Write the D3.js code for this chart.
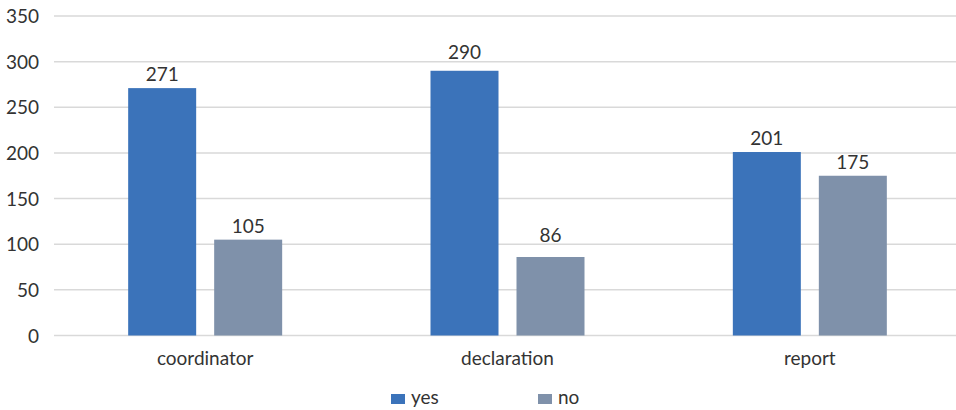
<!DOCTYPE html>
<html>
<head>
<meta charset="utf-8">
<script src="https://cdn.jsdelivr.net/npm/d3@7"></script>
<style>
  html, body { margin: 0; padding: 0; background: #fff; }
  svg { display: block; }
  text { font-family: Lato, "Open Sans", sans-serif; fill: #333; }
</style>
</head>
<body>
<svg id="chart" width="956" height="410"></svg>
<script>
// Chart data
const categories = ["coordinator", "declaration", "report"];
const seriesNames = ["yes", "no"];
const yesValues = [271, 290, 201];
const noValues = [105, 86, 175];
const yTicks = [0, 50, 100, 150, 200, 250, 300, 350];
const colors = { yes: "#3b73ba", no: "#7f91aa" };

const rows = categories.map((c, i) => ({ category: c, yes: yesValues[i], no: noValues[i] }));

const svg = d3.select("#chart");
const plotLeft = 54, plotRight = 961, plotTop = 16, plotBottom = 335.5;
const fontSize = 19;
const fontFamily = "Lato, 'Open Sans', sans-serif";

const x0 = d3.scaleBand().domain(categories).range([plotLeft, plotRight]).paddingInner(0).paddingOuter(0);
const x1 = d3.scaleBand().domain(seriesNames).range([0, 154]).paddingInner(18 / 86).paddingOuter(0);
const y = d3.scaleLinear().domain([0, 350]).range([plotBottom, plotTop]);

// Horizontal gridlines
svg.append("g")
  .selectAll("line")
  .data(yTicks)
  .join("line")
  .attr("x1", plotLeft).attr("x2", 956)
  .attr("y1", d => y(d)).attr("y2", d => y(d))
  .attr("stroke", "#d9d9d9").attr("stroke-width", 1.5);

// Y axis tick labels
const yAxis = d3.axisLeft(y).tickValues(yTicks).tickSize(0).tickPadding(0);
const gy = svg.append("g").attr("transform", `translate(39,0)`).call(yAxis);
gy.select(".domain").remove();
gy.selectAll("text").attr("font-size", fontSize).attr("font-family", fontFamily).attr("fill", "#333").attr("dy", "0.35em");

// Grouped bars
const groups = svg.append("g")
  .selectAll("g")
  .data(rows)
  .join("g")
  .attr("transform", d => `translate(${x0(d.category) + (x0.bandwidth() - 154) / 2},0)`);

groups.selectAll("rect")
  .data(d => seriesNames.map(k => ({ key: k, value: d[k] })))
  .join("rect")
  .attr("x", d => x1(d.key))
  .attr("width", x1.bandwidth())
  .attr("y", d => y(d.value))
  .attr("height", d => y(0) - y(d.value))
  .attr("fill", d => colors[d.key]);

// Value label baseline: a few px above the bar, lifted above a gridline it would cross
function labelBaseline(v) {
  let base = y(v) - 7;
  const hit = yTicks.map(t => y(t)).find(g => g > base - 13 && g < base + 2);
  if (hit !== undefined) base = hit - 2.5;
  return base;
}

groups.selectAll("text")
  .data(d => seriesNames.map(k => ({ key: k, value: d[k] })))
  .join("text")
  .attr("x", d => x1(d.key) + x1.bandwidth() / 2)
  .attr("y", d => labelBaseline(d.value))
  .attr("text-anchor", "middle")
  .attr("font-size", fontSize)
  .text(d => d.value);

// Category axis labels
const xAxis = d3.axisBottom(x0).tickSize(0).tickPadding(0);
const gx = svg.append("g").attr("transform", `translate(0,365)`).call(xAxis);
gx.select(".domain").remove();
gx.selectAll("text").attr("font-size", fontSize).attr("font-family", fontFamily).attr("fill", "#333").attr("dy", 0).attr("y", 0);

// Legend
const legendX = { yes: 391, no: 538 };
const legend = svg.append("g")
  .selectAll("g")
  .data(seriesNames)
  .join("g")
  .attr("transform", d => `translate(${legendX[d]},394)`);
legend.append("rect").attr("width", 14).attr("height", 10).attr("fill", d => colors[d]);
legend.append("text").attr("x", 20).attr("y", 10).attr("font-size", fontSize).text(d => d);
</script>
</body>
</html>
